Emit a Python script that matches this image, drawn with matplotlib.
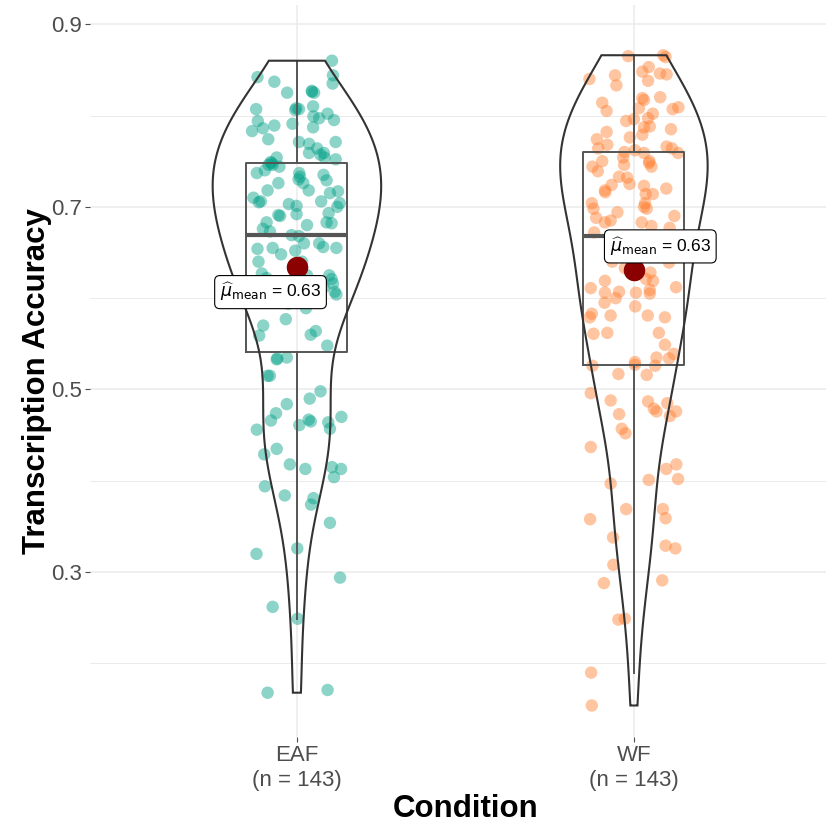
import numpy as np
import matplotlib
matplotlib.use("Agg")
import matplotlib.pyplot as plt
from matplotlib.ticker import FixedLocator

plt.rcParams["font.family"] = ["Liberation Sans", "DejaVu Sans"]

conditions = ["EAF", "WF"]
group_sizes = [143, 143]
point_colors = ["#00A087", "#FF7D2D"]

# transcription accuracy per participant and its horizontal jitter
eaf_accuracy = [
    0.860, 0.842, 0.844, 0.837, 0.835, 0.825, 0.827, 0.825, 0.807, 0.806,
    0.807, 0.810, 0.802, 0.799, 0.797, 0.794, 0.786, 0.783, 0.789, 0.791,
    0.787, 0.774, 0.771, 0.769, 0.771, 0.764, 0.759, 0.759, 0.754, 0.752,
    0.749, 0.754, 0.746, 0.744, 0.746, 0.737, 0.737, 0.733, 0.735, 0.729,
    0.726, 0.726, 0.718, 0.718, 0.717, 0.715, 0.710, 0.705, 0.706, 0.703,
    0.701, 0.706, 0.704, 0.692, 0.691, 0.693, 0.683, 0.682, 0.683, 0.676,
    0.673, 0.669, 0.668, 0.660, 0.654, 0.655, 0.660, 0.656, 0.655, 0.648,
    0.640, 0.627, 0.625, 0.621, 0.616, 0.607, 0.604, 0.594, 0.589, 0.577,
    0.560, 0.564, 0.559, 0.533, 0.535, 0.515, 0.515, 0.498, 0.490, 0.484,
    0.474, 0.466, 0.461, 0.467, 0.465, 0.464, 0.457, 0.470, 0.456, 0.435,
    0.429, 0.418, 0.413, 0.415, 0.413, 0.404, 0.394, 0.384, 0.381, 0.374,
    0.354, 0.326, 0.320, 0.294, 0.262, 0.249, 0.168, 0.171,
    0.622, 0.615, 0.608, 0.600, 0.598, 0.625, 0.636, 0.640, 0.605, 0.612,
    0.596, 0.534, 0.570, 0.548, 0.652,
    0.826, 0.808, 0.757, 0.748, 0.700, 0.740, 0.730, 0.680, 0.690, 0.795,
]
eaf_jitter = [
    0.104, -0.117, 0.107, -0.067, 0.106, -0.029, 0.044, 0.051, -0.121, -0.005,
    0.006, 0.048, 0.091, 0.049, 0.066, -0.116, -0.101, -0.133, -0.067, -0.013,
    0.048, -0.085, 0.006, 0.036, 0.115, 0.060, 0.036, 0.080, 0.082, 0.115,
    -0.078, -0.060, -0.072, -0.052, -0.084, -0.119, 0.007, 0.009, 0.079, 0.088,
    0.019, -0.055, -0.087, 0.035, 0.122, 0.098, -0.129, -0.113, -0.107, -0.024,
    -0.001, 0.072, 0.127, -0.001, -0.055, 0.094, 0.088, 0.103, -0.090, -0.101,
    -0.080, -0.016, 0.006, 0.021, -0.117, -0.072, 0.066, 0.078, 0.117, -0.047,
    -0.114, -0.104, 0.096, 0.103, 0.107, 0.112, 0.117, -0.026, 0.027, -0.033,
    0.041, 0.056, -0.112, -0.060, -0.030, -0.087, -0.080, 0.070, 0.038, -0.030,
    -0.062, -0.077, 0.007, 0.035, 0.041, 0.093, 0.098, 0.132, -0.119, -0.060,
    -0.097, -0.021, 0.025, 0.104, 0.131, 0.110, -0.095, -0.036, 0.049, 0.042,
    0.098, 0.001, -0.120, 0.128, -0.072, 0.002, -0.087, 0.091,
    -0.090, -0.040, 0.010, 0.060, -0.120, 0.030, -0.010, 0.015, -0.060, 0.080,
    -0.020, -0.058, -0.100, 0.090, -0.005,
    0.045, -0.002, 0.070, -0.075, 0.120, -0.095, 0.005, 0.030, -0.050, 0.110,
]

wf_accuracy = [
    0.865, 0.866, 0.864, 0.840, 0.844, 0.833, 0.848, 0.853, 0.838, 0.846,
    0.845, 0.814, 0.805, 0.819, 0.817, 0.820, 0.808, 0.807, 0.809, 0.802,
    0.797, 0.796, 0.794, 0.788, 0.787, 0.779, 0.782, 0.785, 0.776, 0.774,
    0.768, 0.764, 0.766, 0.764, 0.759, 0.760, 0.762, 0.759, 0.754, 0.750,
    0.750, 0.744, 0.739, 0.746, 0.744, 0.733, 0.732, 0.725, 0.724, 0.718,
    0.723, 0.720, 0.714, 0.714, 0.704, 0.698, 0.704, 0.698, 0.694, 0.688,
    0.685, 0.683, 0.683, 0.672, 0.679, 0.677,
    0.640, 0.633, 0.639, 0.628, 0.621, 0.619, 0.611, 0.619, 0.612, 0.606,
    0.607, 0.606, 0.609, 0.605, 0.595, 0.600, 0.591, 0.583, 0.579, 0.581,
    0.581, 0.579, 0.561, 0.562, 0.562, 0.549, 0.535, 0.534, 0.539, 0.530,
    0.526, 0.526, 0.517, 0.516, 0.496, 0.488, 0.487, 0.485, 0.479, 0.476,
    0.476, 0.471, 0.473, 0.457, 0.452, 0.437,
    0.418, 0.413, 0.402, 0.401, 0.397, 0.369, 0.369, 0.359, 0.358, 0.338,
    0.329, 0.326, 0.308, 0.288, 0.291, 0.248, 0.249, 0.190, 0.154,
    0.668, 0.660, 0.650, 0.655, 0.648, 0.527, 0.748, 0.716, 0.700, 0.690,
]
wf_jitter = [
    -0.017, 0.087, 0.094, -0.132, -0.056, -0.052, 0.025, 0.044, 0.042, 0.077,
    0.097, -0.094, -0.081, 0.025, 0.030, 0.078, 0.015, 0.115, 0.132, 0.056,
    0.042, 0.000, -0.023, 0.047, 0.030, 0.025, -0.081, 0.110, -0.012, -0.110,
    -0.079, -0.106, 0.097, 0.113, 0.131, -0.028, 0.003, 0.030, -0.032, -0.094,
    0.046, -0.123, -0.107, -0.029, 0.052, -0.044, -0.020, -0.013, -0.066, -0.086,
    0.030, 0.096, 0.035, 0.056, -0.125, -0.120, 0.033, 0.038, -0.049, -0.112,
    -0.069, -0.086, 0.023, -0.118, 0.052, 0.106,
    -0.064, -0.027, 0.104, 0.049, 0.036, 0.057, -0.128, -0.086, 0.125, -0.086,
    -0.044, 0.006, 0.047, 0.047, -0.087, -0.054, 0.004, -0.125, -0.131, -0.069,
    0.041, 0.092, -0.120, -0.079, 0.074, 0.092, 0.067, 0.104, 0.118, 0.003,
    -0.123, 0.063, -0.046, 0.038, -0.128, -0.069, 0.042, 0.099, 0.059, 0.067,
    0.125, 0.107, -0.044, -0.036, -0.025, -0.128,
    0.126, 0.096, 0.131, 0.044, -0.069, -0.023, 0.086, 0.094, -0.130, -0.062,
    0.094, 0.123, -0.061, -0.089, 0.084, -0.046, -0.027, -0.127, -0.125,
    -0.030, 0.060, 0.100, -0.070, 0.020, 0.003, 0.045, -0.085, 0.030, 0.120,
]


def bandwidth_nrd0(x):
    """Silverman's rule of thumb, as in R's bw.nrd0."""
    sd = np.std(x, ddof=1)
    iqr = np.subtract(*np.percentile(x, [75, 25]))
    return 0.9 * min(sd, iqr / 1.34) * len(x) ** -0.2


def gaussian_density(x, grid):
    bw = bandwidth_nrd0(x)
    z = (grid[:, None] - x[None, :]) / bw
    return np.exp(-0.5 * z ** 2).sum(axis=1) / (len(x) * bw * np.sqrt(2 * np.pi))


groups = [np.array(eaf_accuracy), np.array(wf_accuracy)]
jitters = [np.array(eaf_jitter), np.array(wf_jitter)]
positions = [1, 2]

fig = plt.figure(figsize=(8.26, 8.23), dpi=100)
ax = fig.add_axes([90 / 826, 86 / 823, 736 / 826, 732 / 823])

# jittered raw points
for pos, vals, jit, col in zip(positions, groups, jitters, point_colors):
    ax.scatter(pos + jit, vals, s=80, color=col, alpha=0.45,
               edgecolors="none", zorder=2)

# boxplots without outliers
ax.boxplot(groups, positions=positions, widths=0.3, whis=1.5,
           showcaps=False, showfliers=False, patch_artist=False,
           boxprops=dict(color="#555555", linewidth=1.4),
           whiskerprops=dict(color="#555555", linewidth=1.4),
           medianprops=dict(color="#555555", linewidth=3),
           zorder=3)

# trimmed violins, area-scaled across groups
grids = [np.linspace(v.min(), v.max(), 512) for v in groups]
dens = [gaussian_density(v, g) for v, g in zip(groups, grids)]
dmax = max(d.max() for d in dens)
for pos, g, d in zip(positions, grids, dens):
    hw = 0.25 * d / dmax
    xs = np.concatenate([pos - hw, (pos + hw)[::-1]])
    ys = np.concatenate([g, g[::-1]])
    ax.fill(xs, ys, facecolor="none", edgecolor="#333333", linewidth=1.5, zorder=4)

# group means with labels
label_offsets = [(-19, -18), (19, 17)]
for pos, vals, off in zip(positions, groups, label_offsets):
    m = vals.mean()
    ax.scatter([pos], [m], s=210, color="#8B0000", zorder=6)
    ax.annotate(r"$\widehat{\mu}_{\mathrm{mean}}$ = " + f"{m:.2f}",
                xy=(pos, m), xytext=off, textcoords="offset points",
                ha="center", va="center", fontsize=12.5, zorder=7,
                bbox=dict(boxstyle="round,pad=0.3", fc="white", ec="black", lw=0.8))

ax.set_xlim(0.386, 2.57)
ax.set_ylim(0.1195, 0.921)
ax.set_xticks(positions)
ax.set_xticklabels([f"{c}\n(n = {n})" for c, n in zip(conditions, group_sizes)])
ax.set_yticks([0.3, 0.5, 0.7, 0.9])
ax.set_yticklabels(["0.3", "0.5", "0.7", "0.9"])
ax.yaxis.set_minor_locator(FixedLocator([0.2, 0.4, 0.6, 0.8]))

ax.grid(True, which="major", color="#EBEBEB", linewidth=1.1, zorder=0)
ax.grid(True, which="minor", axis="y", color="#EBEBEB", linewidth=0.7, zorder=0)
ax.set_axisbelow(True)
for s in ax.spines.values():
    s.set_visible(False)
ax.tick_params(axis="both", which="major", labelsize=16, labelcolor="#4D4D4D",
               color="#4D4D4D", length=3.5, width=0.8, pad=2.5)
ax.tick_params(axis="y", which="minor", length=0)

fig.text(37 / 826, 1 - 381 / 823, "Transcription Accuracy", rotation=90,
         ha="center", va="center", fontsize=22.5, fontweight="bold")
fig.text(466 / 826, 1 - 809 / 823, "Condition", ha="center", va="center",
         fontsize=22.5, fontweight="bold")

fig.savefig("out.png", dpi=100)
